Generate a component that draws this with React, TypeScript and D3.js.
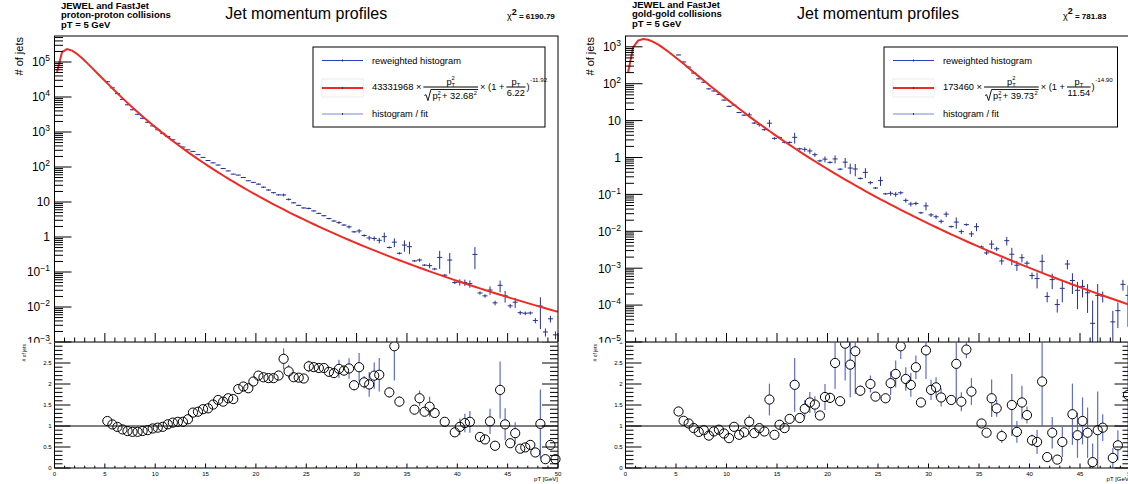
import React, { useEffect, useRef } from 'react';
import * as d3 from 'd3';

const FONT = "'Liberation Sans', Arial, Helvetica, sans-serif";
const WIDTH = 1128;
const HEIGHT = 484;
const Y_TOP = 36;
const Y_MID = 342;
const Y_BOT = 468;

const RED = '#ee2a24';
const BLUE = '#24308f';
const RATIO_BLUE = '#4d5fc6';
const LEGEND_BLUE = '#7a88d2';
const LEGEND_SIZE = 9.3;

// centres of the 0.5 GeV pT bins
const binCenters = [
  5.25, 5.75, 6.25, 6.75, 7.25, 7.75, 8.25, 8.75, 9.25, 9.75,
  10.25, 10.75, 11.25, 11.75, 12.25, 12.75, 13.25, 13.75, 14.25, 14.75,
  15.25, 15.75, 16.25, 16.75, 17.25, 17.75, 18.25, 18.75, 19.25, 19.75,
  20.25, 20.75, 21.25, 21.75, 22.25, 22.75, 23.25, 23.75, 24.25, 24.75,
  25.25, 25.75, 26.25, 26.75, 27.25, 27.75, 28.25, 28.75, 29.25, 29.75,
  30.25, 30.75, 31.25, 31.75, 32.25, 32.75, 33.25, 33.75, 34.25, 34.75,
  35.25, 35.75, 36.25, 36.75, 37.25, 37.75, 38.25, 38.75, 39.25, 39.75,
  40.25, 40.75, 41.25, 41.75, 42.25, 42.75, 43.25, 43.75, 44.25, 44.75,
  45.25, 45.75, 46.25, 46.75, 47.25, 47.75, 48.25, 48.75, 49.25, 49.75,
];

// proton-proton: reweighted histogram
const ppCounts = [
  27410, 18290, 12470, 8527, 5981, 4318, 3210, 2455, 1888, 1493,
  1162, 909.2, 743.8, 599.0, 475.6, 373.0, 310.0, 279.0, 225.4, 188.2,
  153.2, 131.3, 113.9, 90.25, 77.34, 62.53, 58.84, 50.03, 40.49, 36.42,
  32.36, 26.5, 21.98, 18.43, 15.95, 15.89, 11.89, 9.469, 8.009, 6.756,
  6.553, 5.561, 4.727, 4.06, 3.362, 2.861, 2.582, 2.197, 1.947, 1.406,
  1.491, 1.105, 0.9411, 0.9097, 0.8045, 1.021, 0.5031, 0.7128, 0.3424, 0.5889,
  0.529, 0.2078, 0.22, 0.1575, 0.1524, 0.1216, 0.2613, 0.08107, 0.2197, 0.04994,
  0.05152, 0.05036, 0.04642, 0.3181, 0.02517, 0.02081, 0.03057, 0.01315, 0.04163, 0.02101,
  0.01077, 0.0137, 0.006877, 0.006635, 0.006754, 0.004126, 0.01064, 0.001933, 0.004605, 0.0016,
];
const ppErrors = [
  490, 350, 250, 185, 136, 100, 75, 56, 42, 32,
  24, 19, 14, 11, 8.6, 6.8, 5.3, 4.2, 3.4, 2.7,
  4.3, 3.5, 2.8, 2.3, 1.9, 1.5, 1.25, 1.03, 0.85, 0.71,
  1.47, 1.23, 1.03, 0.86, 0.72, 1.53, 0.83, 0.35, 0.3, 0.25,
  0.38, 0.23, 0.2, 0.17, 0.15, 0.13, 0.24, 0.11, 0.2, 0.086,
  0.21, 0.081, 0.14, 0.13, 0.145, 0.31, 0.034, 0.2, 0.026, 0.21,
  0.2, 0.012, 0.024, 0.0094, 0.025, 0.0093, 0.139, 0.0059, 0.13, 0.0047,
  0.0105, 0.0104, 0.011, 0.197, 0.0027, 0.0024, 0.0083, 0.002, 0.0152, 0.0077,
  0.0015, 0.0043, 0.0009, 0.0008, 0.0007, 0.0007, 0.0083, 0.0005, 0.001, 0.0004,
];

// gold-gold: reweighted histogram (null = empty bin)
const auCounts = [
  601.4, 388.5, 282.6, 195.2, 135.9, 109.7, 72.56, 63.46, 51.47, 36.04,
  24.31, 26.24, 16.6, 14.05, 14.34, 8.566, 7.789, 5.682, 8.509, 3.304,
  3.464, 2.577, 2.566, 3.522, 1.722, 1.664, 1.505, 1.194, 0.8123, 0.9047,
  0.738, 0.9153, 0.483, 0.7477, 0.5183, 0.489, 0.271, 0.3955, 0.2078, 0.1488,
  0.2364, 0.1037, 0.1069, 0.1006, 0.1107, 0.06896, 0.05495, 0.05693, 0.0317, 0.0488,
  0.02784, 0.02473, 0.01863, 0.02919, 0.0134, 0.01775, 0.009799, 0.01518, 0.008512, 0.01335,
  0.003761, 0.0026, 0.004489, 0.003357, 0.001573, 0.005575, 0.002391, 0.001204, 0.001922, 0.001367,
  0.0006315, 0.0005236, 0.001537, 0.0001717, 0.0004911, 0.0001036, 0.000285, 0.001298, 0.0004646, 0.0002519,
  0.0003222, 0.0002154, 0.00003205, 0.000184, 0.0001754, null, 0.00003511, 0.00007079, 0.0003646, 0.0001837,
];
const auErrors = [
  13, 10, 8, 6.2, 4.7, 3.7, 2.8, 2.2, 1.7, 1.3,
  1.0, 0.8, 0.63, 0.5, 2.2, 0.52, 0.9, 0.33, 1.98, 0.25,
  0.2, 0.16, 0.175, 1.14, 0.116, 0.236, 0.241, 0.158, 0.065, 0.166,
  0.053, 0.227, 0.03, 0.222, 0.164, 0.179, 0.018, 0.119, 0.021, 0.0088,
  0.066, 0.0062, 0.0148, 0.0144, 0.0115, 0.0091, 0.0078, 0.0066, 0.002, 0.0119,
  0.0036, 0.0031, 0.0024, 0.0048, 0.0008, 0.006, 0.0014, 0.0011, 0.0015, 0.0033,
  0.00035, 0.00031, 0.0012, 0.00047, 0.00033, 0.00145, 0.00118, 0.00036, 0.00049, 0.00022,
  0.00013, 0.00024, 0.00079, 0.000053, 0.00022, 0.000041, 0.000166, 0.00037, 0.000265, 0.000174,
  0.000161, 0.000154, 0.000101, 0.000188, 0.000058, 0, 0.000035, 0.000047, 0.000118, 0.000158,
];

// fit parameters shown in the legends
const ppFit = { norm: 43331968, scale: 32.68, p0: 6.22, power: 11.92 };
const auFit = { norm: 173460, scale: 39.73, p0: 11.54, power: 14.9 };

const xMajorTicks = [0, 5, 10, 15, 20, 25, 30, 35, 40, 45, 50];
const ratioMajorTicks = [0, 0.5, 1, 1.5, 2, 2.5, 3];

const panels = [
  {
    id: 'pp', padLeft: 0, padRight: 564, frameLeft: 54.5, frameRight: 558,
    yMin: 1e-3, yMaxExp: 5.743, system: 'proton-proton collisions',
    chi2: '6190.79', chi2X: 507, headerShift: 0,
    counts: ppCounts, errors: ppErrors, fit: ppFit,
  },
  {
    id: 'au', padLeft: 564, padRight: 1128, frameLeft: 625.5, frameRight: 1130.5,
    yMin: 1e-5, yMaxExp: 3.293, system: 'gold-gold collisions',
    chi2: '781.83', chi2X: 1063, headerShift: -1,
    counts: auCounts, errors: auErrors, fit: auFit,
  },
];

function fitValue(f, x) {
  return (f.norm * x * x) / Math.sqrt(x * x + f.scale * f.scale) * Math.pow(1 + x / f.p0, -f.power);
}

function textWidth(sel) {
  return (sel.node() as SVGTextElement).getComputedTextLength();
}

function powLabel(g, k, xr, yy) {
  const t = g.append('text').attr('x', xr).attr('y', yy + 4.3).attr('text-anchor', 'end').attr('font-size', 12);
  if (k === 0) t.text('1');
  else if (k === 1) t.text('10');
  else {
    t.append('tspan').text('10');
    t.append('tspan').attr('dy', -5).attr('font-size', 8.5).text(k < 0 ? `\u2212${-k}` : `${k}`);
  }
}

function drawFormula(g, left, yBar, fit) {
  const s = LEGEND_SIZE;
  const sm = s * 0.62;
  const f = g.append('g');
  const add = (parent, str, px, py, size = s) =>
    parent.append('text').attr('x', px).attr('y', py).attr('font-size', size).text(str);
  const addPt = (parent, px, py, squared) => {
    const wp = textWidth(add(parent, 'p', px, py));
    let w = wp + textWidth(add(parent, 'T', px + wp, py + 2.3, sm));
    if (squared) w = Math.max(w, wp + textWidth(add(parent, '2', px + wp, py - 4.2, sm)));
    return w;
  };

  let cx = left;
  cx += textWidth(add(f, `${fit.norm} \u00d7`, cx, yBar + 3.3)) + 2;

  // p_T^2 / sqrt(p_T^2 + scale^2)
  const num = f.append('g');
  const wn = addPt(num, 0, 0, true);
  const den = f.append('g');
  let wd = 8;
  wd += addPt(den, wd, 0, true) + 1;
  wd += textWidth(add(den, `+ ${fit.scale.toFixed(2)}`, wd, 0));
  wd += textWidth(add(den, '2', wd + 0.5, -4.2, sm)) + 0.5;
  den.append('path')
    .attr('d', `M0,-3.5 L1.6,-4.3 L3.6,1.6 L6.5,-9.5 L${wd + 1},-9.5`)
    .attr('fill', 'none').attr('stroke', '#000').attr('stroke-width', 0.9);
  const barW = Math.max(wn, wd) + 2;
  f.append('line').attr('x1', cx).attr('x2', cx + barW).attr('y1', yBar).attr('y2', yBar)
    .attr('stroke', '#000').attr('stroke-width', 1);
  num.attr('transform', `translate(${cx + (barW - wn) / 2},${yBar - 2.5})`);
  den.attr('transform', `translate(${cx + (barW - wd) / 2},${yBar + 12})`);
  cx += barW + 2;

  cx += textWidth(add(f, '\u00d7 (1 +', cx, yBar + 3.3)) + 2;

  // p_T / p0
  const num2 = f.append('g');
  const wn2 = addPt(num2, 0, 0, false);
  const den2 = f.append('g');
  const wd2 = textWidth(add(den2, `${fit.p0.toFixed(2)}`, 0, 0));
  const barW2 = Math.max(wn2, wd2) + 1;
  f.append('line').attr('x1', cx).attr('x2', cx + barW2).attr('y1', yBar).attr('y2', yBar)
    .attr('stroke', '#000').attr('stroke-width', 1);
  num2.attr('transform', `translate(${cx + (barW2 - wn2) / 2},${yBar - 2.5})`);
  den2.attr('transform', `translate(${cx + (barW2 - wd2) / 2},${yBar + 9})`);
  cx += barW2 + 1;

  cx += textWidth(add(f, ')', cx, yBar + 3.3));
  add(f, `-${fit.power.toFixed(2)}`, cx + 0.5, yBar - 5.5, 6.2);
}

function drawPanel(svg, p) {
  const x = d3.scaleLinear().domain([0, 50]).range([p.frameLeft, p.frameRight]);
  const yMax = Math.pow(10, p.yMaxExp);
  const y = d3.scaleLog().domain([p.yMin, yMax]).range([Y_MID, Y_TOP]);
  const r = d3.scaleLinear().domain([0, 3]).range([Y_BOT, Y_MID]);
  const fw = p.frameRight - p.frameLeft;

  const g = svg.append('g').attr('font-family', FONT).attr('fill', '#000');

  const clipTop = `clip-top-${p.id}`;
  const clipBot = `clip-bot-${p.id}`;
  const clipPad = `clip-pad-${p.id}`;
  const defs = g.append('defs');
  defs.append('clipPath').attr('id', clipTop).append('rect')
    .attr('x', p.frameLeft).attr('y', Y_TOP).attr('width', fw).attr('height', Y_MID - Y_TOP);
  defs.append('clipPath').attr('id', clipBot).append('rect')
    .attr('x', p.frameLeft).attr('y', Y_MID).attr('width', fw).attr('height', Y_BOT - Y_MID);
  defs.append('clipPath').attr('id', clipPad).append('rect')
    .attr('x', p.padLeft).attr('y', Y_MID + 0.5).attr('width', p.padRight - p.padLeft).attr('height', HEIGHT - Y_MID);

  // ---------- upper pad ----------
  const up = g.append('g');
  const hist = up.append('g').attr('clip-path', `url(#${clipTop})`).attr('stroke', BLUE).attr('stroke-width', 1);
  binCenters.forEach((bc, i) => {
    const c = p.counts[i];
    if (c == null || c <= 0 || c < p.yMin || c > yMax) return;
    const e = p.errors[i];
    const cy = y(c);
    hist.append('line').attr('x1', x(bc - 0.25)).attr('x2', x(bc + 0.25)).attr('y1', cy).attr('y2', cy);
    if (e > 0) {
      const lo = c - e > 0 ? y(Math.max(c - e, p.yMin / 10)) : Y_MID + 5;
      hist.append('line').attr('x1', x(bc)).attr('x2', x(bc)).attr('y1', y(c + e)).attr('y2', lo);
    }
  });

  const fitXs = d3.range(0.25, 50, 0.5).concat([50]);
  const fitLine = d3.line<number>().x(d => x(d)).y(d => y(fitValue(p.fit, d)));
  up.append('path').attr('d', fitLine(fitXs)).attr('fill', 'none').attr('stroke', RED)
    .attr('stroke-width', 2).attr('clip-path', `url(#${clipTop})`);

  up.append('rect').attr('x', p.frameLeft).attr('y', Y_TOP).attr('width', fw).attr('height', Y_MID - Y_TOP)
    .attr('fill', 'none').attr('stroke', '#000').attr('stroke-width', 1);

  // log y axis
  const yt = up.append('g').attr('stroke', '#000').attr('stroke-width', 1);
  const kMin = Math.floor(Math.log10(p.yMin));
  const kMax = Math.ceil(p.yMaxExp);
  for (let k = kMin; k <= kMax; k++) {
    for (let m = 1; m <= 9; m++) {
      const v = m * Math.pow(10, k);
      if (v < p.yMin * 0.999 || v > yMax) continue;
      const len = m === 1 ? 17 : 8.5;
      yt.append('line').attr('x1', p.frameLeft).attr('x2', p.frameLeft + len).attr('y1', y(v)).attr('y2', y(v));
      if (m === 1) powLabel(up, k, p.frameLeft - 4.5, y(v));
    }
  }
  // x ticks on the bottom of the upper frame
  d3.range(0, 51).forEach(v => {
    const len = v % 5 === 0 ? 9 : 4.5;
    yt.append('line').attr('x1', x(v)).attr('x2', x(v)).attr('y1', Y_MID).attr('y2', Y_MID - len);
  });

  up.append('text').attr('transform', `translate(${p.frameLeft - 32},${Y_TOP + 1}) rotate(-90)`)
    .attr('text-anchor', 'end').attr('font-size', 11).text('# of jets');

  // header texts
  const hx = p.frameLeft + 6.5;
  const hs = p.headerShift;
  const head = up.append('g').attr('font-weight', 'bold').attr('font-size', 9.5);
  head.append('text').attr('x', hx).attr('y', 8.5 + hs).text('JEWEL and FastJet');
  head.append('text').attr('x', hx).attr('y', 18.3 + hs).text(p.system);
  head.append('text').attr('x', hx).attr('y', 28 + hs).text('pT = 5 GeV');

  up.append('text').attr('x', (p.frameLeft + p.frameRight) / 2).attr('y', 19).attr('text-anchor', 'middle')
    .attr('font-size', 16).text('Jet momentum profiles');

  const chi = up.append('text').attr('x', p.chi2X).attr('y', 19 + hs / 2).attr('font-size', 8).attr('font-weight', 'bold');
  chi.append('tspan').attr('font-weight', 'normal').attr('font-size', 9).text('\u03c7');
  chi.append('tspan').attr('dy', -4.5).attr('font-size', 9).text('2');
  chi.append('tspan').attr('dy', 4.5).text(` = ${p.chi2}`);

  // legend
  const lx = p.frameLeft + 258.5;
  const lw = fw - 271.5;
  const leg = up.append('g');
  leg.append('rect').attr('x', lx).attr('y', 47).attr('width', lw).attr('height', 80)
    .attr('fill', '#fff').attr('stroke', '#000').attr('stroke-width', 1);
  const rows = [60.5, 87, 114];
  leg.append('line').attr('x1', lx + 9).attr('x2', lx + 50).attr('y1', rows[0]).attr('y2', rows[0])
    .attr('stroke', '#2b3fc0').attr('stroke-width', 1);
  leg.append('rect').attr('x', lx + 9).attr('y', rows[1] - 8).attr('width', 41).attr('height', 18)
    .attr('fill', 'none').attr('stroke', '#ececec').attr('stroke-width', 1);
  leg.append('line').attr('x1', lx + 9).attr('x2', lx + 50).attr('y1', rows[1] + 1).attr('y2', rows[1] + 1)
    .attr('stroke', RED).attr('stroke-width', 2);
  leg.append('line').attr('x1', lx + 9).attr('x2', lx + 50).attr('y1', rows[2]).attr('y2', rows[2])
    .attr('stroke', LEGEND_BLUE).attr('stroke-width', 1.2);
  rows.forEach((ry, i) => {
    const off = i === 1 ? 1 : 0;
    leg.append('line').attr('x1', lx + 29.5).attr('x2', lx + 29.5).attr('y1', ry - 1 + off).attr('y2', ry + 1 + off)
      .attr('stroke', '#333').attr('stroke-width', 1);
  });
  leg.append('text').attr('x', lx + 59).attr('y', rows[0] + 3.3).attr('font-size', LEGEND_SIZE).text('reweighted histogram');
  drawFormula(leg, lx + 59, rows[1], p.fit);
  leg.append('text').attr('x', lx + 59).attr('y', rows[2] + 3.3).attr('font-size', LEGEND_SIZE).text('histogram / fit');

  // ---------- lower pad ----------
  const low = g.append('g').attr('clip-path', `url(#${clipPad})`);
  low.append('rect').attr('x', p.padLeft).attr('y', Y_MID + 0.5).attr('width', p.padRight - p.padLeft)
    .attr('height', HEIGHT - Y_MID).attr('fill', '#fff');

  low.append('line').attr('x1', p.frameLeft).attr('x2', p.frameRight).attr('y1', r(1)).attr('y2', r(1))
    .attr('stroke', '#000').attr('stroke-width', 1);

  const R = 4.6;
  const bars = low.append('g').attr('clip-path', `url(#${clipBot})`).attr('stroke', RATIO_BLUE)
    .attr('stroke-width', 1.2).attr('opacity', 0.9);
  const marks = low.append('g').attr('fill', 'none').attr('stroke', '#000').attr('stroke-width', 1);
  binCenters.forEach((bc, i) => {
    const c = p.counts[i];
    if (c == null) return;
    const fv = fitValue(p.fit, bc);
    const ratio = c / fv;
    const rerr = p.errors[i] / fv;
    if (ratio < 0 || ratio > 3) return;
    const cx = x(bc);
    const cy = r(ratio);
    const top = r(ratio + rerr);
    const bot = r(ratio - rerr);
    if (top < cy - R) bars.append('line').attr('x1', cx).attr('x2', cx).attr('y1', top).attr('y2', cy - R);
    if (bot > cy + R) bars.append('line').attr('x1', cx).attr('x2', cx).attr('y1', cy + R).attr('y2', bot);
    marks.append('circle').attr('cx', cx).attr('cy', cy).attr('r', R);
  });

  low.append('rect').attr('x', p.frameLeft).attr('y', Y_MID).attr('width', fw).attr('height', Y_BOT - Y_MID)
    .attr('fill', 'none').attr('stroke', '#000').attr('stroke-width', 1);

  const lt = low.append('g').attr('stroke', '#000').attr('stroke-width', 1);
  d3.range(0, 31).forEach(i => {
    const v = i / 10;
    const len = i % 5 === 0 ? 16 : 8;
    lt.append('line').attr('x1', p.frameLeft).attr('x2', p.frameLeft + len).attr('y1', r(v)).attr('y2', r(v));
    lt.append('line').attr('x1', p.frameRight).attr('x2', p.frameRight - len).attr('y1', r(v)).attr('y2', r(v));
  });
  d3.range(0, 51).forEach(v => {
    const len = v % 5 === 0 ? 4.5 : 2.3;
    lt.append('line').attr('x1', x(v)).attr('x2', x(v)).attr('y1', Y_BOT).attr('y2', Y_BOT - len);
  });
  ratioMajorTicks.forEach(v => {
    low.append('text').attr('x', p.frameLeft - 3).attr('y', r(v) + 2).attr('text-anchor', 'end')
      .attr('font-size', 6).text(`${v}`);
  });
  xMajorTicks.forEach(v => {
    low.append('text').attr('x', x(v)).attr('y', 475.5).attr('text-anchor', 'middle')
      .attr('font-size', 6).text(`${v}`);
  });
  low.append('text').attr('x', p.frameRight).attr('y', 481).attr('text-anchor', 'end')
    .attr('font-size', 6).text('pT [GeV]');
  low.append('text').attr('transform', `translate(${p.frameLeft - 29},${Y_MID + 2}) rotate(-90)`)
    .attr('text-anchor', 'end').attr('font-size', 5).text('# of jets');
}

export default function App() {
  const ref = useRef<SVGSVGElement>(null);
  useEffect(() => {
    document.body.style.margin = '0';
    const svg = d3.select(ref.current);
    svg.selectAll('*').remove();
    svg.append('rect').attr('width', WIDTH).attr('height', HEIGHT).attr('fill', '#fff');
    panels.forEach(p => drawPanel(svg, p));
  }, []);
  return <svg ref={ref} width={WIDTH} height={HEIGHT} style={{ display: 'block' }} />;
}
